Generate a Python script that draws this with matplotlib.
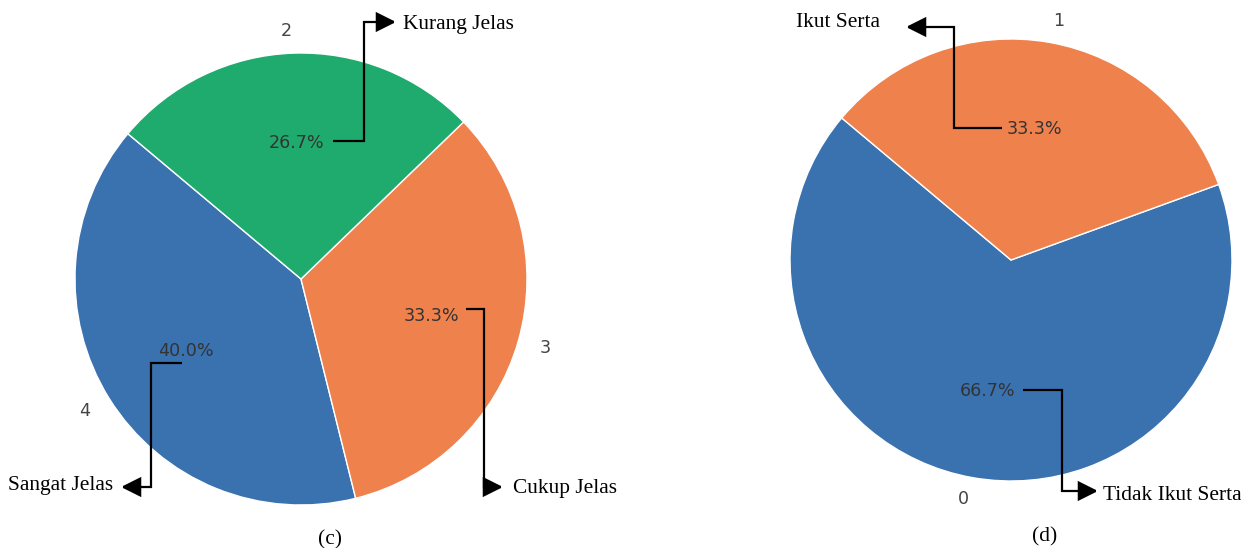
import matplotlib
matplotlib.use("Agg")
import matplotlib.pyplot as plt
from matplotlib.patches import FancyArrowPatch
from matplotlib.path import Path

# ---- data ----
labels_c = ['4', '3', '2']
counts_c = [6, 5, 4]
names_c = ['Sangat Jelas', 'Cukup Jelas', 'Kurang Jelas']

labels_d = ['0', '1']
counts_d = [10, 5]
names_d = ['Tidak Ikut Serta', 'Ikut Serta']

colors = ['#3A72B0', '#EF814C', '#20AB6E']

W, H = 1241, 548
fig = plt.figure(figsize=(W / 100, H / 100), dpi=100)


def fx(x):
    return x / W


def fy(y):
    return 1 - y / H


def make_ax(cx, cy, r):
    return fig.add_axes([fx(cx - r), fy(cy + r), 2 * r / W, 2 * r / H])


def draw_pie(ax, counts, labels):
    wedges, texts, autotexts = ax.pie(
        counts, labels=labels, colors=colors[:len(counts)], startangle=140,
        autopct='%1.1f%%', pctdistance=0.6, labeldistance=1.1,
        wedgeprops=dict(edgecolor='white', linewidth=1),
        textprops=dict(fontsize=12.6))
    for t in texts:
        t.set_color('#444444')
    for t in autotexts:
        t.set_color('#333333')
    ax.set_xlim(-1, 1)
    ax.set_ylim(-1, 1)
    ax.set_aspect('equal')
    ax.axis('off')


ax1 = make_ax(301, 279, 226)
draw_pie(ax1, counts_c, labels_c)
ax2 = make_ax(1011, 260, 221)
draw_pie(ax2, counts_d, labels_d)


def elbow(pts):
    verts = [(fx(x), fy(y)) for x, y in pts]
    codes = [Path.MOVETO] + [Path.LINETO] * (len(verts) - 1)
    arr = FancyArrowPatch(path=Path(verts, codes), transform=fig.transFigure,
                          arrowstyle='-|>', mutation_scale=30, lw=1.6,
                          color='black', joinstyle='miter', capstyle='butt')
    fig.add_artist(arr)


serif = dict(family='Liberation Serif', fontsize=15.4, color='black')

# (c) annotations
elbow([(333, 141), (364, 141), (364, 22), (396, 22)])
fig.text(fx(403), fy(29), names_c[2], ha='left', va='baseline', **serif)
elbow([(466, 309), (484, 309), (484, 487), (503, 487)])
fig.text(fx(513), fy(493), names_c[1], ha='left', va='baseline', **serif)
elbow([(182, 363), (151, 363), (151, 487), (121, 487)])
fig.text(fx(113), fy(490), names_c[0], ha='right', va='baseline', **serif)

# (d) annotations
elbow([(1002, 128), (954, 128), (954, 27), (906, 27)])
fig.text(fx(880), fy(27), names_d[1], ha='right', va='baseline', **serif)
elbow([(1023, 390), (1062, 390), (1062, 491), (1098, 491)])
fig.text(fx(1103), fy(500), names_d[0], ha='left', va='baseline', **serif)

# captions
fig.text(fx(330), fy(544), '(c)', ha='center', va='baseline', **serif)
fig.text(fx(1045), fy(541), '(d)', ha='center', va='baseline', **serif)

fig.savefig('out.png', dpi=100, facecolor='white')
